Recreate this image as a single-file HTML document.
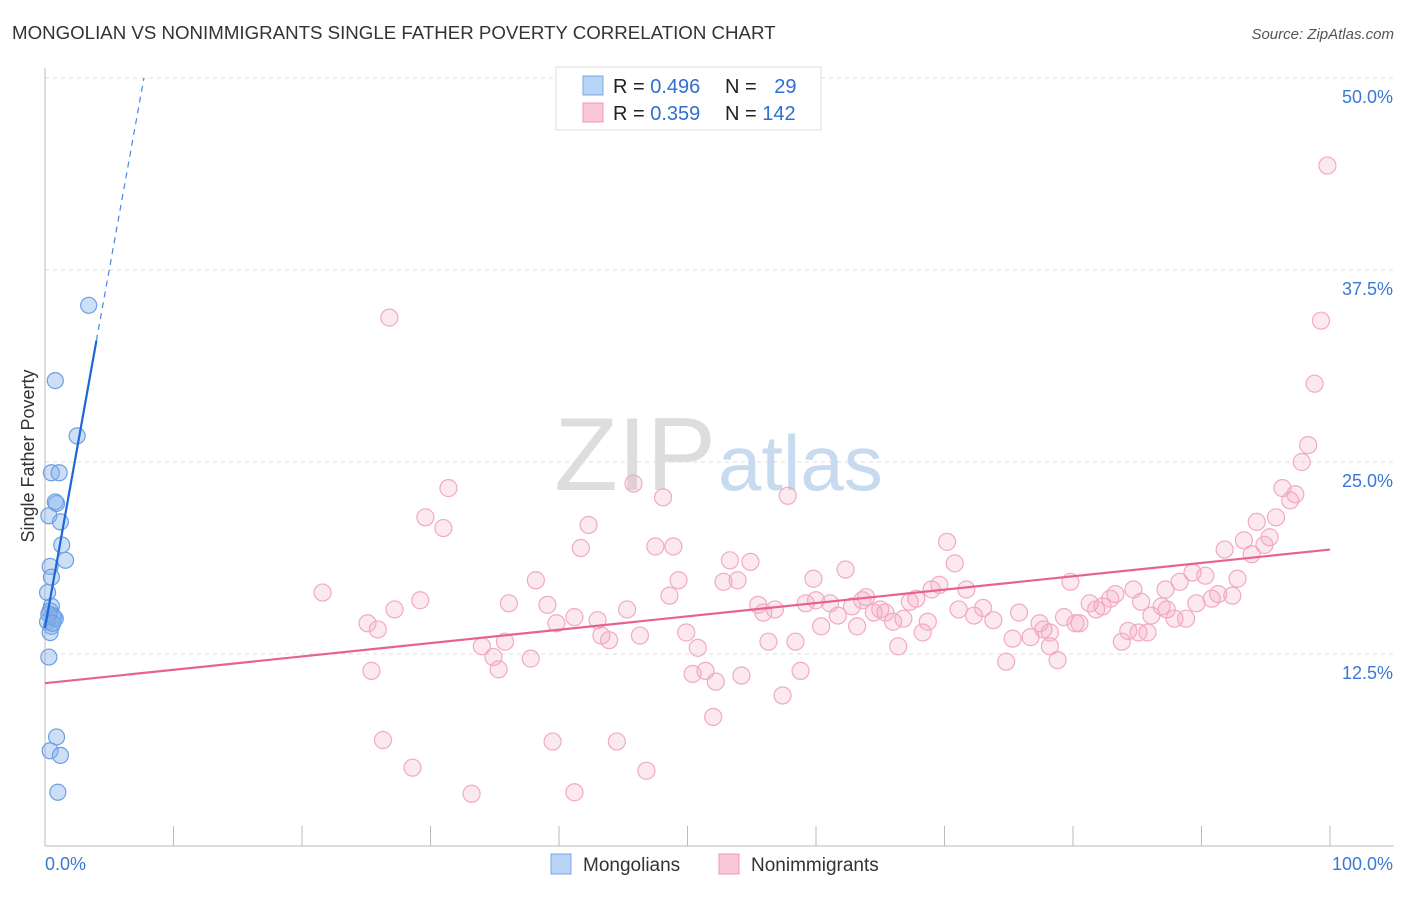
<!DOCTYPE html>
<html><head><meta charset="utf-8">
<style>
body{margin:0;background:#fff;font-family:"Liberation Sans",sans-serif;}
svg text{font-family:"Liberation Sans",sans-serif;}
</style></head>
<body>
<svg id="chart" width="1406" height="892" xmlns="http://www.w3.org/2000/svg">
<text x="12" y="39" font-size="18.7" fill="#333">MONGOLIAN VS NONIMMIGRANTS SINGLE FATHER POVERTY CORRELATION CHART</text>
<text x="1394" y="39" font-size="15" fill="#555" font-style="italic" text-anchor="end">Source: ZipAtlas.com</text>
<text x="0" y="0" transform="translate(34,456) rotate(-90)" font-size="18" fill="#333" text-anchor="middle">Single Father Poverty</text>
<g id="grid"></g>
<text x="716" y="490" font-size="104" fill="#ddd" text-anchor="end" font-family="Liberation Serif">ZIP</text>
<text x="718" y="490" font-size="78" fill="#c8daf0">atlas</text>
<g id="marks"></g>
<g>
<rect x="556" y="67" width="265" height="63" fill="#fff" stroke="#ddd"/>
<rect x="583" y="76" width="20" height="19" fill="#b8d3f5" stroke="#7aa8e6"/>
<rect x="583" y="103" width="20" height="19" fill="#f9c6d5" stroke="#ef9ab6"/>
<text x="613" y="93" font-size="20" fill="#222">R = <tspan fill="#2f6fd0">0.496</tspan></text>
<text x="725" y="93" font-size="20" fill="#222">N = <tspan fill="#2f6fd0" dx="12">29</tspan></text>
<text x="613" y="120" font-size="20" fill="#222">R = <tspan fill="#2f6fd0">0.359</tspan></text>
<text x="725" y="120" font-size="20" fill="#222">N = <tspan fill="#2f6fd0">142</tspan></text>
</g>
<g>
<rect x="551" y="854" width="20" height="20" fill="#b8d3f5" stroke="#7aa8e6"/>
<text x="583" y="871" font-size="19" fill="#333">Mongolians</text>
<rect x="719" y="854" width="20" height="20" fill="#f9c6d5" stroke="#ef9ab6"/>
<text x="751" y="871" font-size="19" fill="#333">Nonimmigrants</text>
</g>
</svg>
<script>
const yTicks=[12.5,25,37.5,50];
const yTickLabels=["12.5%","25.0%","37.5%","50.0%"];
const xTickLabels=["0.0%","100.0%"];
const mongX=[3.4,0.8,2.5,0.5,1.1,0.9,0.8,0.3,1.2,1.3,1.6,0.4,0.5,0.2,0.5,0.4,0.7,0.2,0.5,0.4,0.3,0.9,0.4,1.2,1.0,0.6,0.8,0.3,0.6];
const mongY=[35.2,30.3,26.7,24.3,24.3,22.3,22.4,21.5,21.1,19.6,18.6,18.2,17.5,16.5,15.6,15.3,14.9,14.6,14.3,13.9,12.3,7.1,6.2,5.9,3.5,15.0,14.8,15.1,14.5];
const nonX=[99.8,99.3,98.8,98.3,97.8,96.3,97.3,96.9,95.8,94.3,95.3,94.9,93.3,93.9,91.8,92.8,90.3,89.3,88.3,92.4,91.3,90.8,89.6,87.2,86.9,85.3,84.7,83.3,82.9,82.3,81.3,79.8,88.8,87.9,87.3,86.1,85.1,85.8,83.8,84.3,81.8,80.5,80.2,79.3,78.8,78.2,78.2,77.7,77.4,76.7,75.8,75.3,74.8,73.8,72.3,71.7,71.1,70.2,70.8,69.6,69.0,68.7,68.3,67.8,67.3,66.8,66.4,66.0,65.4,65.0,64.5,63.9,63.6,63.2,62.8,62.3,61.7,61.1,60.4,59.8,59.2,58.8,58.4,57.4,57.8,56.8,56.3,55.9,55.5,54.9,53.9,53.3,52.8,52.2,52.0,51.4,50.8,50.4,49.9,49.3,48.6,48.1,47.5,48.9,45.8,46.3,45.3,44.5,43.9,43.3,43.0,42.3,41.7,41.2,41.2,39.8,39.1,38.2,37.8,36.1,35.8,35.3,34.9,34.0,33.2,31.4,31.0,29.6,29.2,28.6,27.2,26.8,26.3,25.9,25.4,25.1,21.6,46.8,54.2,39.5,73.0,60.0];
const nonY=[44.3,34.2,30.1,26.1,25.0,23.3,22.9,22.5,21.4,21.1,20.1,19.6,19.9,19.0,19.3,17.4,17.6,17.8,17.2,16.3,16.4,16.1,15.8,16.7,15.6,15.9,16.7,16.4,16.1,15.6,15.8,17.2,14.8,14.8,15.4,15.0,13.9,13.9,13.3,14.0,15.4,14.5,14.5,14.9,12.1,13.0,13.9,14.1,14.5,13.6,15.2,13.5,12.0,14.7,15.0,16.7,15.4,19.8,18.4,17.0,16.7,14.6,13.9,16.1,15.9,14.8,13.0,14.6,15.2,15.4,15.2,16.2,16.0,14.3,15.6,18.0,15.0,15.8,14.3,17.4,15.8,11.4,13.3,9.8,22.8,15.4,13.3,15.2,15.7,18.5,17.3,18.6,17.2,10.7,8.4,11.4,12.9,11.2,13.9,17.3,16.3,22.7,19.5,19.5,23.6,13.7,15.4,6.8,13.4,13.7,14.7,20.9,19.4,3.5,14.9,14.5,15.7,17.3,12.2,15.8,13.3,11.5,12.3,13.0,3.4,23.3,20.7,21.4,16.0,5.1,15.4,34.4,6.9,14.1,11.4,14.5,16.5,4.9,11.1,6.8,15.5,16.0];
const mongTrend=[0,14.2,4,32.9,7.7,50];
const nonTrend=[0,10.6,100,19.3];
const X0=45,X1=1330,Y0=846,PPP=15.36;
function sx(v){return X0+(X1-X0)*v/100;}
function sy(v){return Y0-v*PPP;}
const NS="http://www.w3.org/2000/svg";
const grid=document.getElementById('grid'),marks=document.getElementById('marks');
function mk(tag,attrs,parent){const e=document.createElementNS(NS,tag);for(const k in attrs)e.setAttribute(k,attrs[k]);parent.appendChild(e);return e;}
yTicks.forEach((t,i)=>{
 const l=mk('line',{x1:X0,x2:1394,y1:sy(t),y2:sy(t),stroke:'#ddd','stroke-dasharray':'4,4'},grid);
 
 
 const tx=mk('text',{x:1393,y:sy(t)+25,'font-size':18,fill:'#3a78d4','text-anchor':'end'},grid);
 tx.textContent=yTickLabels[i];
 
 
});
const ax=mk('line',{x1:X0,x2:X0,y1:68,y2:Y0,stroke:'#bbb'},grid);


const bx=mk('line',{x1:X0,x2:1394,y1:Y0,y2:Y0,stroke:'#bbb'},grid);


for(let i=0;i<=10;i++){const t=mk('line',{x1:sx(i*10),x2:sx(i*10),y1:826,y2:Y0,stroke:'#bbb'},grid);
 
 }
[[0,'start',45],[100,'end',1393]].forEach((d,i)=>{const t=mk('text',{x:d[2],y:870,'font-size':18,fill:'#3a78d4','text-anchor':d[1]},grid);t.textContent=xTickLabels[i];
 
 });
nonX.forEach((x,i)=>{const c=mk('circle',{cx:sx(x),cy:sy(nonY[i]),r:8.5,fill:'rgba(244,164,190,0.25)',stroke:'#f2aac0','stroke-width':1.2},marks);
 
 });
mongX.forEach((x,i)=>{const c=mk('circle',{cx:sx(x),cy:sy(mongY[i]),r:8,fill:'rgba(130,175,235,0.4)',stroke:'#6c9fe2','stroke-width':1.2},marks);
 
 });
const nl=mk('line',{x1:sx(nonTrend[0]),y1:sy(nonTrend[1]),x2:sx(nonTrend[2]),y2:sy(nonTrend[3]),stroke:'#e8628f','stroke-width':2.2},marks);


const ml=mk('line',{x1:sx(mongTrend[0]),y1:sy(mongTrend[1]),x2:sx(mongTrend[2]),y2:sy(mongTrend[3]),stroke:'#1f66d6','stroke-width':2.2},marks);


const md=mk('line',{x1:sx(mongTrend[2]),y1:sy(mongTrend[3]),x2:sx(mongTrend[4]),y2:sy(mongTrend[5]),stroke:'#4a86e0','stroke-width':1.2,'stroke-dasharray':'6,5'},marks);


</script>
</body></html>
